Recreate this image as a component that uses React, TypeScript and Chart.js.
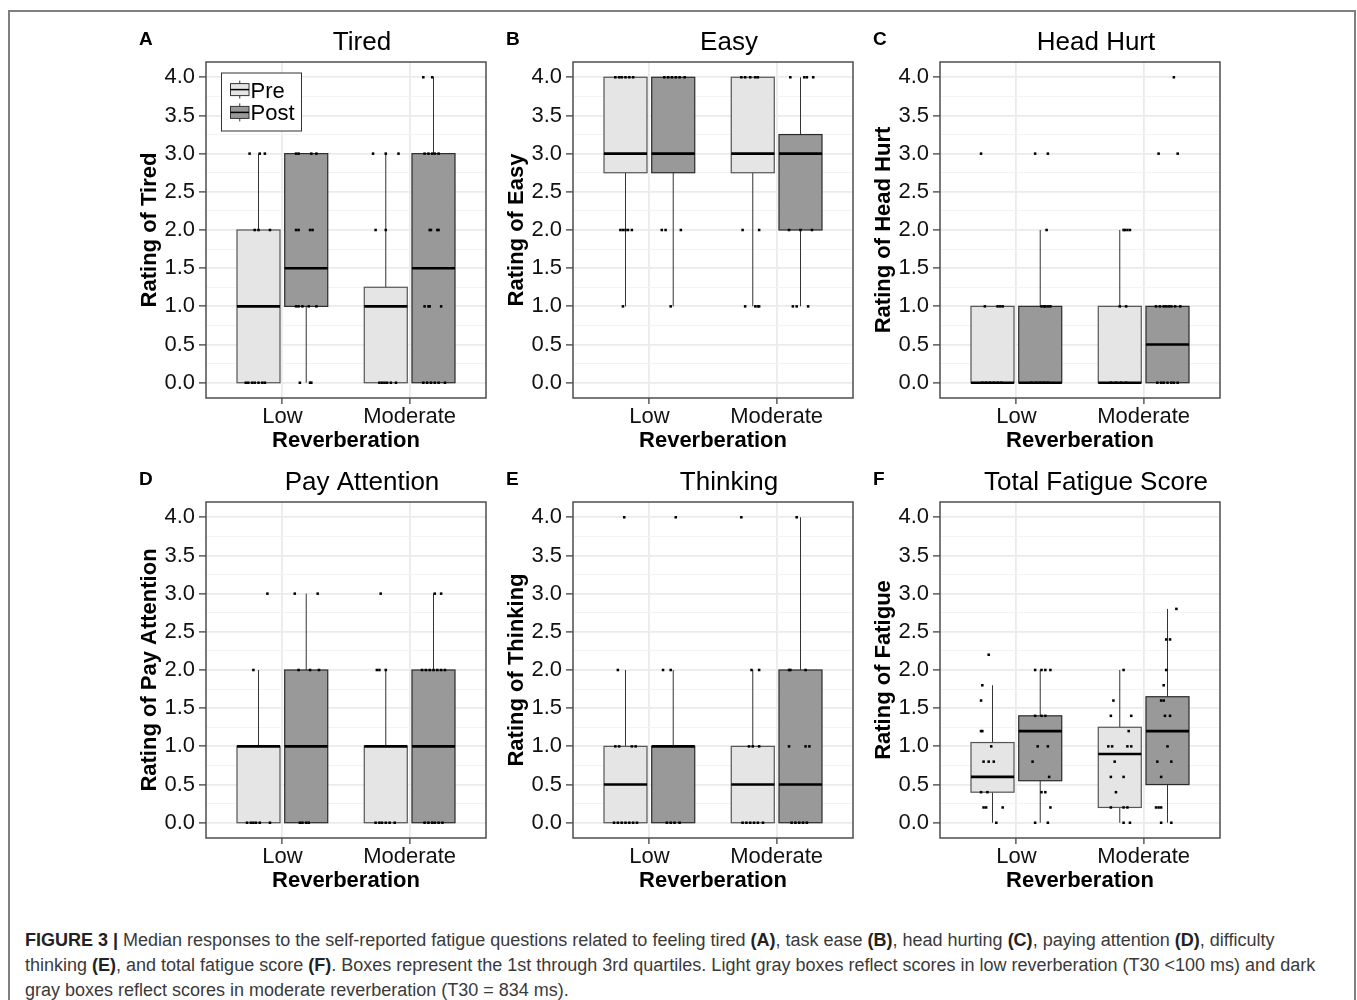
import React, { useEffect, useRef } from 'react';
import { Chart, registerables } from 'chart.js';

Chart.register(...registerables);

// ---------- data ----------
const categories = ['Low', 'Moderate'];
const phases = ['Pre', 'Post'];
const yMajorTicks = [0, 0.5, 1, 1.5, 2, 2.5, 3, 3.5, 4];
const yMinorTicks = [0.25, 0.75, 1.25, 1.75, 2.25, 2.75, 3.25, 3.75];
const panelLetters = ['A', 'B', 'C', 'D', 'E', 'F'];
const panelTitles = ['Tired', 'Easy', 'Head Hurt', 'Pay Attention', 'Thinking', 'Total Fatigue Score'];
const yAxisTitles = [
  'Rating of Tired',
  'Rating of Easy',
  'Rating of Head Hurt',
  'Rating of Pay Attention',
  'Rating of Thinking',
  'Rating of Fatigue',
];
const xAxisTitle = 'Reverberation';

// groups: 0 = Low/Pre, 1 = Low/Post, 2 = Moderate/Pre, 3 = Moderate/Post
// box: [lower whisker, Q1, median, Q3, upper whisker]
const tiredBoxes = [[0, 0, 1, 2, 3], [0, 1, 1.5, 3, 3], [0, 0, 1, 1.25, 3], [0, 0, 1.5, 3, 4]];
const easyBoxes = [[1, 2.75, 3, 4, 4], [1, 2.75, 3, 4, 4], [1, 2.75, 3, 4, 4], [1, 2, 3, 3.25, 4]];
const headBoxes = [[0, 0, 0, 1, 1], [0, 0, 0, 1, 2], [0, 0, 0, 1, 2], [0, 0, 0.5, 1, 1]];
const attentionBoxes = [[0, 0, 1, 1, 2], [0, 0, 1, 2, 3], [0, 0, 1, 1, 2], [0, 0, 1, 2, 3]];
const thinkingBoxes = [[0, 0, 0.5, 1, 2], [0, 0, 1, 1, 2], [0, 0, 0.5, 1, 2], [0, 0, 0.5, 2, 4]];
const fatigueBoxes = [[0, 0.4, 0.6, 1.05, 1.8], [0, 0.55, 1.2, 1.4, 2], [0, 0.2, 0.9, 1.25, 2], [0, 0.5, 1.2, 1.65, 2.8]];

// points: [group, rating, horizontal jitter]
const tiredPoints = [
  [0, 3, -0.07], [0, 3, 0.01], [0, 3, 0.05], [0, 2, -0.03], [0, 2, 0], [0, 2, 0.09],
  [0, 0, -0.1], [0, 0, -0.08], [0, 0, -0.05], [0, 0, -0.03], [0, 0, 0], [0, 0, 0.03], [0, 0, 0.05],
  [1, 3, -0.08], [1, 3, -0.06], [1, 3, 0.04], [1, 3, 0.08], [1, 2, -0.08], [1, 2, -0.06], [1, 2, 0.03], [1, 2, 0.05],
  [1, 1, -0.08], [1, 1, -0.06], [1, 1, -0.03], [1, 1, 0.02], [1, 1, 0.08], [1, 0, -0.05], [1, 0, 0.03], [1, 0, 0.04],
  [2, 3, -0.1], [2, 3, 0], [2, 3, 0.1], [2, 2, -0.08], [2, 2, 0],
  [2, 0, -0.05], [2, 0, -0.03], [2, 0, -0.01], [2, 0, 0.01], [2, 0, 0.04], [2, 0, 0.08],
  [3, 4, -0.08], [3, 4, -0.01], [3, 3, -0.07], [3, 3, -0.04], [3, 3, -0.01], [3, 3, 0.01], [3, 3, 0.04],
  [3, 2, -0.03], [3, 2, -0.02], [3, 2, 0.03], [3, 2, 0.04], [3, 1, -0.07], [3, 1, -0.04], [3, 1, -0.03], [3, 1, 0.06],
  [3, 0, -0.08], [3, 0, -0.05], [3, 0, -0.02], [3, 0, 0.01], [3, 0, 0.04], [3, 0, 0.09],
];
const easyPoints = [
  [0, 4, -0.08], [0, 4, -0.05], [0, 4, -0.03], [0, 4, 0], [0, 4, 0.03], [0, 4, 0.06],
  [0, 2, -0.04], [0, 2, -0.02], [0, 2, 0], [0, 2, 0.02], [0, 2, 0.05], [0, 1, -0.02],
  [1, 4, -0.07], [1, 4, -0.04], [1, 4, -0.01], [1, 4, 0.02], [1, 4, 0.05], [1, 4, 0.09],
  [1, 2, -0.09], [1, 2, -0.06], [1, 2, 0.06], [1, 1, -0.02],
  [2, 4, -0.09], [2, 4, -0.06], [2, 4, -0.02], [2, 4, 0.02], [2, 4, 0.04],
  [2, 2, -0.08], [2, 2, 0.05], [2, 1, -0.06], [2, 1, 0.02], [2, 1, 0.04], [2, 1, 0.05],
  [3, 4, -0.08], [3, 4, 0.03], [3, 4, 0.05], [3, 4, 0.1], [3, 2, -0.09], [3, 2, 0], [3, 2, 0.09],
  [3, 1, -0.06], [3, 1, -0.03], [3, 1, 0.06],
];
const headPoints = [
  [0, 3, -0.09], [0, 1, -0.06], [0, 1, 0.04], [0, 1, 0.06], [0, 1, 0.08],
  [0, 0, -0.08], [0, 0, -0.05], [0, 0, -0.02], [0, 0, 0.01], [0, 0, 0.04], [0, 0, 0.07],
  [1, 3, -0.04], [1, 3, 0.06], [1, 2, 0.05], [1, 1, 0.01], [1, 1, 0.03], [1, 1, 0.04], [1, 1, 0.06], [1, 1, 0.08],
  [1, 0, -0.07], [1, 0, -0.03], [1, 0, 0], [1, 0, 0.03], [1, 0, 0.06],
  [2, 2, 0.03], [2, 2, 0.04], [2, 2, 0.06], [2, 2, 0.08], [2, 1, 0], [2, 1, 0.05],
  [2, 0, -0.07], [2, 0, -0.03], [2, 0, 0.01], [2, 0, 0.05],
  [3, 4, 0.05], [3, 3, -0.07], [3, 3, 0.08],
  [3, 1, -0.09], [3, 1, -0.06], [3, 1, -0.03], [3, 1, -0.01], [3, 1, 0.01], [3, 1, 0.03], [3, 1, 0.06], [3, 1, 0.1],
  [3, 0, -0.08], [3, 0, -0.05], [3, 0, -0.03], [3, 0, 0], [3, 0, 0.03], [3, 0, 0.05], [3, 0, 0.08],
];
const attentionPoints = [
  [0, 3, 0.07], [0, 2, -0.04], [0, 0, -0.09], [0, 0, -0.06], [0, 0, -0.04], [0, 0, -0.02], [0, 0, 0.01], [0, 0, 0.09],
  [1, 3, -0.09], [1, 3, 0.09], [1, 2, -0.06], [1, 2, 0.03], [1, 2, 0.1],
  [1, 0, -0.05], [1, 0, -0.03], [1, 0, 0], [1, 0, 0.02],
  [2, 3, -0.04], [2, 2, -0.07], [2, 2, -0.05], [2, 2, 0],
  [2, 0, -0.08], [2, 0, -0.05], [2, 0, -0.03], [2, 0, 0], [2, 0, 0.03], [2, 0, 0.07],
  [3, 3, 0.01], [3, 3, 0.06], [3, 2, -0.09], [3, 2, -0.06], [3, 2, -0.03], [3, 2, 0], [3, 2, 0.03], [3, 2, 0.06], [3, 2, 0.09],
  [3, 0, -0.07], [3, 0, -0.04], [3, 0, -0.01], [3, 0, 0.01], [3, 0, 0.04], [3, 0, 0.07],
];
const thinkingPoints = [
  [0, 4, -0.01], [0, 2, -0.06], [0, 1, -0.08], [0, 1, -0.05], [0, 1, 0.05], [0, 1, 0.08],
  [0, 0, -0.09], [0, 0, -0.06], [0, 0, -0.03], [0, 0, 0], [0, 0, 0.03], [0, 0, 0.06], [0, 0, 0.09],
  [1, 4, 0.02], [1, 2, -0.08], [1, 2, -0.02], [1, 0, -0.05], [1, 0, -0.02], [1, 0, 0.01], [1, 0, 0.05],
  [2, 4, -0.09], [2, 2, -0.01], [2, 2, 0.05], [2, 1, -0.03], [2, 1, 0], [2, 1, 0.05],
  [2, 0, -0.08], [2, 0, -0.05], [2, 0, -0.02], [2, 0, 0.01], [2, 0, 0.04], [2, 0, 0.08],
  [3, 4, -0.03], [3, 2, -0.09], [3, 2, -0.08], [3, 2, 0.04], [3, 1, -0.09], [3, 1, 0.04], [3, 1, 0.07],
  [3, 0, -0.07], [3, 0, -0.04], [3, 0, -0.01], [3, 0, 0.02], [3, 0, 0.05],
];
const fatiguePoints = [
  [0, 2.2, -0.03], [0, 1.8, -0.08], [0, 1.6, -0.09], [0, 1.2, -0.09], [0, 1.2, -0.08], [0, 1, -0.01],
  [0, 0.8, -0.07], [0, 0.8, -0.03], [0, 0.8, 0.01], [0, 0.4, -0.09], [0, 0.4, -0.04],
  [0, 0.2, -0.07], [0, 0.2, -0.05], [0, 0.2, 0.08], [0, 0, 0.03],
  [1, 2, -0.04], [1, 2, 0.01], [1, 2, 0.04], [1, 2, 0.08], [1, 1.4, -0.04], [1, 1.4, 0.01], [1, 1.4, 0.04],
  [1, 1, -0.02], [1, 1, 0.06], [1, 0.8, -0.06], [1, 0.6, 0.07], [1, 0.4, 0.01], [1, 0.4, 0.04],
  [1, 0.2, 0.08], [1, 0, -0.04], [1, 0, 0.06],
  [2, 2, 0.03], [2, 1.6, -0.05], [2, 1.4, -0.07], [2, 1.4, 0.09], [2, 1.2, 0.07],
  [2, 1, -0.09], [2, 1, -0.06], [2, 1, 0.06], [2, 1, 0.09], [2, 0.8, -0.04], [2, 0.6, -0.07], [2, 0.6, 0.03],
  [2, 0.4, -0.03], [2, 0.2, -0.07], [2, 0.2, 0.03], [2, 0.2, 0.06], [2, 0, 0.03], [2, 0, 0.08],
  [3, 2.8, 0.07], [3, 2.4, -0.01], [3, 2.4, 0.02], [3, 2, -0.01], [3, 1.8, -0.03], [3, 1.6, -0.05], [3, 1.6, -0.03],
  [3, 1.4, -0.02], [3, 1.4, 0.02], [3, 1, 0], [3, 0.8, -0.08], [3, 0.8, 0.03], [3, 0.6, -0.05],
  [3, 0.2, -0.09], [3, 0.2, -0.07], [3, 0.2, -0.05], [3, 0, -0.05], [3, 0, 0.03],
];

const panelBoxes = [tiredBoxes, easyBoxes, headBoxes, attentionBoxes, thinkingBoxes, fatigueBoxes];
const panelPoints = [tiredPoints, easyPoints, headPoints, attentionPoints, thinkingPoints, fatiguePoints];

// ---------- styling / layout ----------
const FONT = '"Liberation Sans", Arial, Helvetica, sans-serif';
const PHASE_FILLS = ['#E5E5E5', '#999999'];
const DODGE = 0.1875;
const BOX_HALF = 0.169;
const PLOT_LEFT = [206, 573, 940];
const PLOT_TOP = [62, 502];
const PLOT_W = 280;
const PLOT_H = 336;
const Y_AXIS_W = 76;
const X_AXIS_H = 60;
const PAD_TOP = 50;
const PAD_RIGHT = 10;

const groupCenter = (g: number) => Math.floor(g / 2) + 1 + (g % 2 === 0 ? -DODGE : DODGE);
const isMajor = (v: number) => Math.abs(v * 2 - Math.round(v * 2)) < 1e-6;

function makeDecorPlugin(index: number) {
  const boxes = panelBoxes[index];
  return {
    id: 'panelDecor' + index,
    beforeDatasetsDraw(chart: any) {
      const { ctx } = chart;
      const xs = chart.scales.x;
      const ys = chart.scales.y;
      ctx.save();
      boxes.forEach((b: number[], g: number) => {
        const cx = groupCenter(g);
        const xl = xs.getPixelForValue(cx - BOX_HALF);
        const xr = xs.getPixelForValue(cx + BOX_HALF);
        const xc = xs.getPixelForValue(cx);
        const [lo, q1, med, q3, hi] = b.map((v) => ys.getPixelForValue(v));
        ctx.strokeStyle = '#333333';
        ctx.lineWidth = 1;
        ctx.beginPath();
        ctx.moveTo(xc, hi);
        ctx.lineTo(xc, q3);
        ctx.moveTo(xc, q1);
        ctx.lineTo(xc, lo);
        ctx.stroke();
        ctx.fillStyle = PHASE_FILLS[g % 2];
        ctx.fillRect(xl, q3, xr - xl, q1 - q3);
        ctx.strokeStyle = g % 2 === 0 ? '#555555' : '#2a2a2a';
        ctx.lineWidth = 1.2;
        ctx.strokeRect(xl, q3, xr - xl, q1 - q3);
        ctx.strokeStyle = '#000000';
        ctx.lineWidth = 2.6;
        ctx.beginPath();
        ctx.moveTo(xl, med);
        ctx.lineTo(xr, med);
        ctx.stroke();
      });
      ctx.restore();
    },
    afterDatasetsDraw(chart: any) {
      const { ctx, chartArea } = chart;
      ctx.save();
      ctx.strokeStyle = '#4d4d4d';
      ctx.lineWidth = 1.5;
      ctx.strokeRect(chartArea.left, chartArea.top, chartArea.right - chartArea.left, chartArea.bottom - chartArea.top);
      ctx.restore();
    },
    afterDraw(chart: any) {
      const { ctx, chartArea } = chart;
      ctx.save();
      ctx.fillStyle = '#000000';
      ctx.textBaseline = 'alphabetic';
      ctx.textAlign = 'center';
      ctx.font = `26px ${FONT}`;
      ctx.fillText(panelTitles[index], (chartArea.left + chartArea.right) / 2 + 16, chartArea.top - 12);
      ctx.textAlign = 'left';
      ctx.font = `bold 19px ${FONT}`;
      ctx.fillText(panelLetters[index], chartArea.left - 67, chartArea.top - 17);
      if (index === 0) {
        const lx = chartArea.left + 15.5;
        const ly = chartArea.top + 11;
        ctx.fillStyle = '#ffffff';
        ctx.fillRect(lx, ly, 80, 58);
        ctx.strokeStyle = '#333333';
        ctx.lineWidth = 1;
        ctx.strokeRect(lx, ly, 80, 58);
        phases.forEach((p, k) => {
          const cy = chartArea.top + (k === 0 ? 27.6 : 50.4);
          const kx0 = chartArea.left + 24.5;
          const kx1 = chartArea.left + 43;
          const kxc = (kx0 + kx1) / 2;
          ctx.strokeStyle = '#333333';
          ctx.lineWidth = 1;
          ctx.beginPath();
          ctx.moveTo(kxc, cy - 9);
          ctx.lineTo(kxc, cy + 9);
          ctx.stroke();
          ctx.fillStyle = PHASE_FILLS[k];
          ctx.fillRect(kx0, cy - 6, kx1 - kx0, 12);
          ctx.strokeRect(kx0, cy - 6, kx1 - kx0, 12);
          ctx.strokeStyle = '#000000';
          ctx.lineWidth = 1.5;
          ctx.beginPath();
          ctx.moveTo(kx0, cy);
          ctx.lineTo(kx1, cy);
          ctx.stroke();
          ctx.fillStyle = '#000000';
          ctx.font = `22px ${FONT}`;
          ctx.textBaseline = 'middle';
          ctx.fillText(p, chartArea.left + 44.5, cy + 2);
        });
      }
      ctx.restore();
    },
  };
}

function Panel({ index }: { index: number }) {
  const ref = useRef<HTMLCanvasElement | null>(null);
  useEffect(() => {
    if (!ref.current) return;
    const pts = panelPoints[index].map(([g, v, j]) => ({ x: groupCenter(g) + j, y: v }));
    const chart = new Chart(ref.current, {
      type: 'scatter',
      data: {
        datasets: [
          {
            data: pts,
            pointStyle: 'rect',
            pointRadius: 1.8,
            pointHoverRadius: 1.8,
            backgroundColor: '#000000',
            borderWidth: 0,
          },
        ],
      },
      options: {
        animation: false,
        responsive: true,
        maintainAspectRatio: false,
        devicePixelRatio: 1,
        events: [],
        layout: { padding: { top: PAD_TOP, right: PAD_RIGHT, left: 0, bottom: 0 } },
        plugins: { legend: { display: false }, tooltip: { enabled: false }, title: { display: false } },
        scales: {
          x: {
            type: 'linear',
            min: 0.4,
            max: 2.6,
            bounds: 'data',
            afterBuildTicks: (s: any) => {
              s.ticks = categories.map((_, i) => ({ value: i + 1 }));
            },
            afterFit: (s: any) => {
              s.height = X_AXIS_H;
            },
            ticks: {
              autoSkip: false,
              maxRotation: 0,
              padding: 0,
              color: '#111111',
              font: { family: FONT, size: 22 },
              callback: (v: any) => categories[Math.round(Number(v)) - 1] ?? '',
            },
            grid: { color: '#EBEBEB', lineWidth: 1.8, tickColor: '#333333', tickWidth: 1.2, tickLength: 6 },
            border: { display: false },
            title: {
              display: true,
              text: xAxisTitle,
              color: '#000000',
              font: { family: FONT, size: 22, weight: 'bold' },
              padding: { top: 0, bottom: 4 },
            },
          },
          y: {
            type: 'linear',
            min: -0.2,
            max: 4.2,
            bounds: 'data',
            afterBuildTicks: (s: any) => {
              s.ticks = [...yMajorTicks, ...yMinorTicks].sort((a, b) => a - b).map((v) => ({ value: v }));
            },
            afterFit: (s: any) => {
              s.width = Y_AXIS_W;
            },
            ticks: {
              autoSkip: false,
              padding: 4,
              color: '#111111',
              font: { family: FONT, size: 22 },
              callback: (v: any) => (isMajor(Number(v)) ? Number(v).toFixed(1) : ''),
            },
            grid: {
              color: (c: any) => (isMajor(c.tick?.value ?? 0) ? '#EBEBEB' : '#F3F3F3'),
              lineWidth: (c: any) => (isMajor(c.tick?.value ?? 0) ? 1.8 : 1),
              tickColor: (c: any) => (isMajor(c.tick?.value ?? 0) ? '#333333' : 'rgba(0,0,0,0)'),
              tickWidth: 1.2,
              tickLength: 7,
            },
            border: { display: false },
            title: {
              display: true,
              text: yAxisTitles[index],
              color: '#000000',
              font: { family: FONT, size: 22, weight: 'bold' },
              padding: { top: 7, bottom: 0 },
            },
          },
        },
      } as any,
      plugins: [makeDecorPlugin(index)],
    });
    return () => chart.destroy();
  }, [index]);

  const col = index % 3;
  const row = Math.floor(index / 3);
  const left = PLOT_LEFT[col] - Y_AXIS_W;
  const top = PLOT_TOP[row] - PAD_TOP;
  const width = Y_AXIS_W + PLOT_W + PAD_RIGHT;
  const height = PAD_TOP + PLOT_H + X_AXIS_H;
  return (
    <div style={{ position: 'absolute', left, top, width, height }}>
      <canvas ref={ref} />
    </div>
  );
}

export default function App() {
  const bold = { fontWeight: 700, color: '#222' } as const;
  return (
    <div style={{ position: 'absolute', left: 0, top: 0, width: 1357, height: 1000, overflow: 'hidden', background: '#fff' }}>
      <div
        style={{
          position: 'absolute',
          left: 8,
          top: 10,
          width: 1348,
          height: 990,
          boxSizing: 'border-box',
          borderTop: '2px solid #7f7f7f',
          borderLeft: '2px solid #7f7f7f',
          borderRight: '2px solid #7f7f7f',
        }}
      />
      {[0, 1, 2, 3, 4, 5].map((i) => (
        <Panel key={i} index={i} />
      ))}
      <div
        style={{
          position: 'absolute',
          left: 25,
          top: 928,
          fontFamily: FONT,
          fontSize: 18,
          lineHeight: '25px',
          color: '#3a3a3a',
          whiteSpace: 'nowrap',
        }}
      >
        <span style={bold}>FIGURE 3 |</span> Median responses to the self-reported fatigue questions related to feeling tired{' '}
        <span style={bold}>(A)</span>, task ease <span style={bold}>(B)</span>, head hurting <span style={bold}>(C)</span>, paying
        attention <span style={bold}>(D)</span>, difficulty
        <br />
        thinking <span style={bold}>(E)</span>, and total fatigue score <span style={bold}>(F)</span>. Boxes represent the 1st
        through 3rd quartiles. Light gray boxes reflect scores in low reverberation (T30 &lt;100 ms) and dark
        <br />
        gray boxes reflect scores in moderate reverberation (T30 = 834 ms).
      </div>
    </div>
  );
}
